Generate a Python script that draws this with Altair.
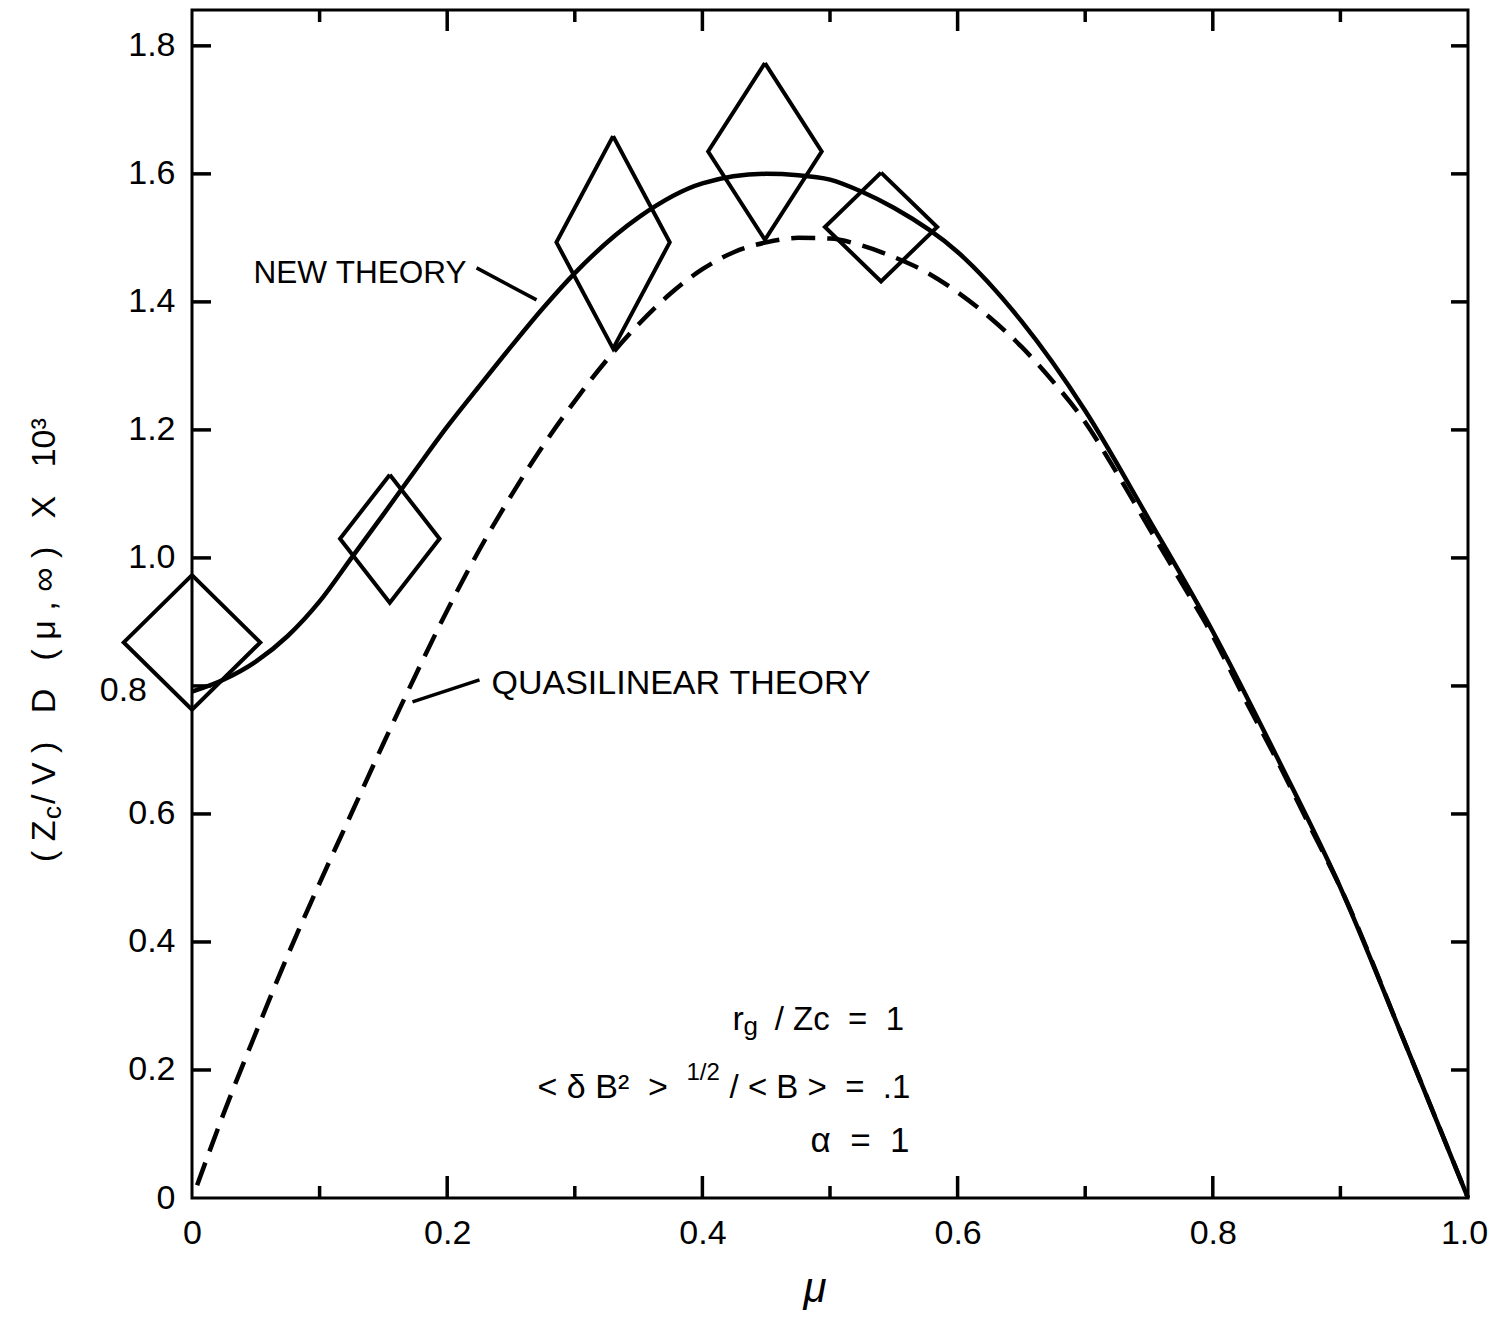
import altair as alt
import pandas as pd

FONT = "Liberation Sans"
NB = "\u00a0"

# ---------------- data ----------------
# New theory (solid curve)
new_mu = [0.0, 0.025, 0.05, 0.075, 0.10, 0.125, 0.15, 0.175, 0.20, 0.225, 0.25, 0.275,
          0.30, 0.35, 0.40, 0.45, 0.475, 0.50, 0.525, 0.55, 0.60, 0.65, 0.70, 0.75,
          0.80, 0.85, 0.90, 0.95, 1.0]
new_d = [0.791, 0.81, 0.838, 0.878, 0.932, 1.0, 1.068, 1.137, 1.205, 1.268, 1.33, 1.39,
         1.445, 1.532, 1.585, 1.60, 1.598, 1.591, 1.572, 1.547, 1.478, 1.37, 1.23, 1.06,
         0.885, 0.69, 0.485, 0.245, 0.0]

# Quasilinear theory (dashed curve)
ql_mu = [0.004, 0.025, 0.05, 0.075, 0.10, 0.125, 0.15, 0.175, 0.20, 0.225, 0.25, 0.275,
         0.30, 0.325, 0.35, 0.375, 0.40, 0.425, 0.45, 0.475, 0.50, 0.525, 0.55, 0.575,
         0.60, 0.625, 0.65, 0.675, 0.70, 0.725, 0.75, 0.775, 0.80, 0.825, 0.85, 0.875,
         0.90, 0.95, 1.0]
ql_d = [0.02, 0.133, 0.258, 0.379, 0.492, 0.601, 0.71, 0.816, 0.918, 1.012, 1.097, 1.175,
        1.245, 1.309, 1.365, 1.413, 1.451, 1.478, 1.493, 1.50, 1.499, 1.488, 1.47, 1.447,
        1.415, 1.376, 1.33, 1.275, 1.212, 1.132, 1.047, 0.963, 0.878, 0.78, 0.685, 0.585,
        0.485, 0.245, 0.0]

# Simulation points with error diamonds
pt_mu = [0.0, 0.155, 0.330, 0.449, 0.540]
pt_d = [0.868, 1.030, 1.493, 1.635, 1.517]
pt_err_mu = [0.0535, 0.039, 0.0444, 0.0445, 0.044]
pt_err_d = [0.105, 0.100, 0.166, 0.138, 0.085]

# Axis ticks / labels
x_label_vals = [0.0, 0.2, 0.4, 0.6, 0.8, 1.0]
y_label_vals = [0.0, 0.2, 0.4, 0.6, 0.8, 1.0, 1.2, 1.4, 1.6, 1.8]
y_label_moved = [0.8]          # this label sits further left in the original
x_ticks_major = [0.2, 0.4, 0.6, 0.8]
x_ticks_minor = [0.1, 0.3, 0.5, 0.7, 0.9]
y_ticks = [0.2, 0.4, 0.6, 0.8, 1.0, 1.2, 1.4, 1.6, 1.8]

# Leader lines for the curve labels
lead_x1 = [0.223, 0.1728]
lead_y1 = [1.4531, 0.775]
lead_x2 = [0.270, 0.2253]
lead_y2 = [1.4031, 0.8094]

# Annotations (left aligned)
ann_l_text = ["NEW" + NB + "THEORY", "QUASILINEAR" + NB + "THEORY", "r", "g",
              "<" + NB + "δ" + NB + "B²" + NB + " >", "1/2",
              "/" + NB + "<" + NB + "B" + NB + ">" + NB * 2 + "=" + NB * 2 + ".1"]
ann_l_mu = [0.0482, 0.2347, 0.4236, 0.4322, 0.2708, 0.3875, 0.4213]
ann_l_d = [1.4297, 0.7867, 0.2625, 0.2547, 0.15625, 0.184, 0.15625]
ann_l_size = [31.5, 34, 34, 26, 34, 24, 33]

# Annotations (right aligned)
ann_r_text = ["/" + NB + "Zc" + NB * 2 + "=" + NB * 2 + "1",
              "α" + NB * 2 + "=" + NB * 2 + "1"]
ann_r_mu = [0.558, 0.5623]
ann_r_d = [0.2625, 0.0719]
ann_r_size = [33, 35]

# ---------------- tables ----------------
new_df = pd.DataFrame({"mu": new_mu, "d": new_d})
ql_df = pd.DataFrame({"mu": ql_mu, "d": ql_d})

rows = []
for i, (m, d, em, ed) in enumerate(zip(pt_mu, pt_d, pt_err_mu, pt_err_d)):
    verts = [(m, d + ed), (m + em, d), (m, d - ed), (m - em, d), (m, d + ed)]
    for k, (vx, vy) in enumerate(verts):
        rows.append({"id": i, "k": k, "mu": vx, "d": vy})
dia_df = pd.DataFrame(rows)

lead_df = pd.DataFrame({"x1": lead_x1, "y1": lead_y1, "x2": lead_x2, "y2": lead_y2})
annl_df = pd.DataFrame({"label": ann_l_text, "mu": ann_l_mu, "d": ann_l_d, "size": ann_l_size})
annr_df = pd.DataFrame({"label": ann_r_text, "mu": ann_r_mu, "d": ann_r_d, "size": ann_r_size})
ymove_df = pd.DataFrame({"t": y_label_moved, "label": [f"{v:.1f}" for v in y_label_moved]})

W, H = 1276, 1188
xs = alt.Scale(domain=[0, 1], nice=False, zero=False)
ys = alt.Scale(domain=[0, 1.856], nice=False, zero=False)

X_LABEL_EXPR = "datum.value == 0 ? '0' : format(datum.value, '.1f')"
Y_LABEL_EXPR = ("datum.value == 0 ? '0' : (abs(datum.value - 0.8) < 0.001 ? '' : "
                "format(datum.value, '.1f'))")
x_axis = alt.Axis(values=x_label_vals, labelExpr=X_LABEL_EXPR,
                  ticks=False, tickSize=0, domain=False, grid=False,
                  labelFont=FONT, labelFontSize=34, labelColor="black",
                  labelPadding=18, labelFlush=False, title=None,
                  labelOffset={"condition": {"test": "datum.value >= 0.999", "value": -4},
                               "value": 0})
y_axis = alt.Axis(values=y_label_vals, labelExpr=Y_LABEL_EXPR,
                  ticks=False, tickSize=0, domain=False, grid=False,
                  labelFont=FONT, labelFontSize=34, labelColor="black",
                  labelPadding=17, labelFlush=False, title=None)


def X(f="mu"):
    return alt.X(f"{f}:Q", scale=xs, axis=x_axis, title=None)


def Y(f="d"):
    return alt.Y(f"{f}:Q", scale=ys, axis=y_axis, title=None)


ql_line = alt.Chart(ql_df).mark_line(
    color="black", strokeWidth=4.5, strokeDash=[24, 12], interpolate="monotone"
).encode(x=X(), y=Y())

new_line = alt.Chart(new_df).mark_line(
    color="black", strokeWidth=4.5, interpolate="monotone"
).encode(x=X(), y=Y())

diamonds = alt.Chart(dia_df).mark_line(
    color="black", strokeWidth=4, strokeJoin="miter"
).encode(x=X(), y=Y(), detail="id:N", order="k:Q")

leaders = alt.Chart(lead_df).mark_rule(color="black", strokeWidth=3.5).encode(
    x=X("x1"), y=Y("y1"), x2="x2:Q", y2="y2:Q"
)

# inward ticks on all four sides
xmaj_df = pd.DataFrame({"t": x_ticks_major})
xmin_df = pd.DataFrame({"t": x_ticks_minor})
yt_df = pd.DataFrame({"t": y_ticks})

tick_style = dict(color="black", strokeWidth=3.5)
bot_major = alt.Chart(xmaj_df).mark_rule(**tick_style).encode(
    x=X("t"), y=alt.value(H), y2=alt.value(H - 22))
bot_minor = alt.Chart(xmin_df).mark_rule(**tick_style).encode(
    x=X("t"), y=alt.value(H), y2=alt.value(H - 12))
top_major = alt.Chart(xmaj_df).mark_rule(**tick_style).encode(
    x=X("t"), y=alt.value(0), y2=alt.value(21))
top_minor = alt.Chart(xmin_df).mark_rule(**tick_style).encode(
    x=X("t"), y=alt.value(0), y2=alt.value(12))
left_ticks = alt.Chart(yt_df).mark_rule(**tick_style).encode(
    y=Y("t"), x=alt.value(0), x2=alt.value(19))
right_ticks = alt.Chart(yt_df).mark_rule(**tick_style).encode(
    y=Y("t"), x=alt.value(W - 17), x2=alt.value(W))

# the 0.8 tick label, drawn left of the first diamond as in the original
y_label_08 = alt.Chart(ymove_df).mark_text(
    align="right", baseline="middle", font=FONT, fontSize=34, color="black", dy=5
).encode(y=Y("t"), x=alt.value(-45), text="label:N")

ann_left = alt.Chart(annl_df).mark_text(
    align="left", baseline="alphabetic", font=FONT, color="black"
).encode(x=X(), y=Y(), text="label:N", size=alt.Size("size:Q", scale=None))

ann_right = alt.Chart(annr_df).mark_text(
    align="right", baseline="alphabetic", font=FONT, color="black"
).encode(x=X(), y=Y(), text="label:N", size=alt.Size("size:Q", scale=None))

# y-axis title built from pieces (rotated)
yt1_df = pd.DataFrame({"label": ["(" + NB + "Z"]})
yt2_df = pd.DataFrame({"label": ["c"]})
yt3_df = pd.DataFrame({"label": ["/" + NB + "V" + NB + ")" + NB * 3 + "D" + NB * 3 + "(" + NB + "μ"
                                 + NB + "," + NB + "∞" + NB + ")" + NB * 3 + "X" + NB * 3 + "10³"]})
ytitle1 = alt.Chart(yt1_df).mark_text(
    angle=270, align="left", baseline="alphabetic", font=FONT, fontSize=34, color="black"
).encode(text="label:N", x=alt.value(-137), y=alt.value(852))
ytitle2 = alt.Chart(yt2_df).mark_text(
    angle=270, align="left", baseline="alphabetic", font=FONT, fontSize=26, color="black"
).encode(text="label:N", x=alt.value(-131), y=alt.value(809))
ytitle3 = alt.Chart(yt3_df).mark_text(
    angle=270, align="left", baseline="alphabetic", font=FONT, fontSize=34, color="black"
).encode(text="label:N", x=alt.value(-137), y=alt.value(794))

xt_df = pd.DataFrame({"label": ["μ"]})
xtitle = alt.Chart(xt_df).mark_text(
    align="center", baseline="alphabetic", font=FONT, fontSize=42, fontStyle="italic",
    color="black"
).encode(text="label:N", x=alt.value(623), y=alt.value(1292))

chart = alt.layer(
    ql_line, new_line, diamonds, leaders,
    bot_major, bot_minor, top_major, top_minor, left_ticks, right_ticks,
    y_label_08, ann_left, ann_right, ytitle1, ytitle2, ytitle3, xtitle,
).properties(
    width=W, height=H,
    autosize=alt.AutoSizeParams(type="none"),
    padding={"left": 184, "top": 2, "right": 22, "bottom": 112},
    background="white",
).configure_view(stroke="black", strokeWidth=3)

chart.save("out.html", embed_options={"renderer": "svg", "actions": False})
